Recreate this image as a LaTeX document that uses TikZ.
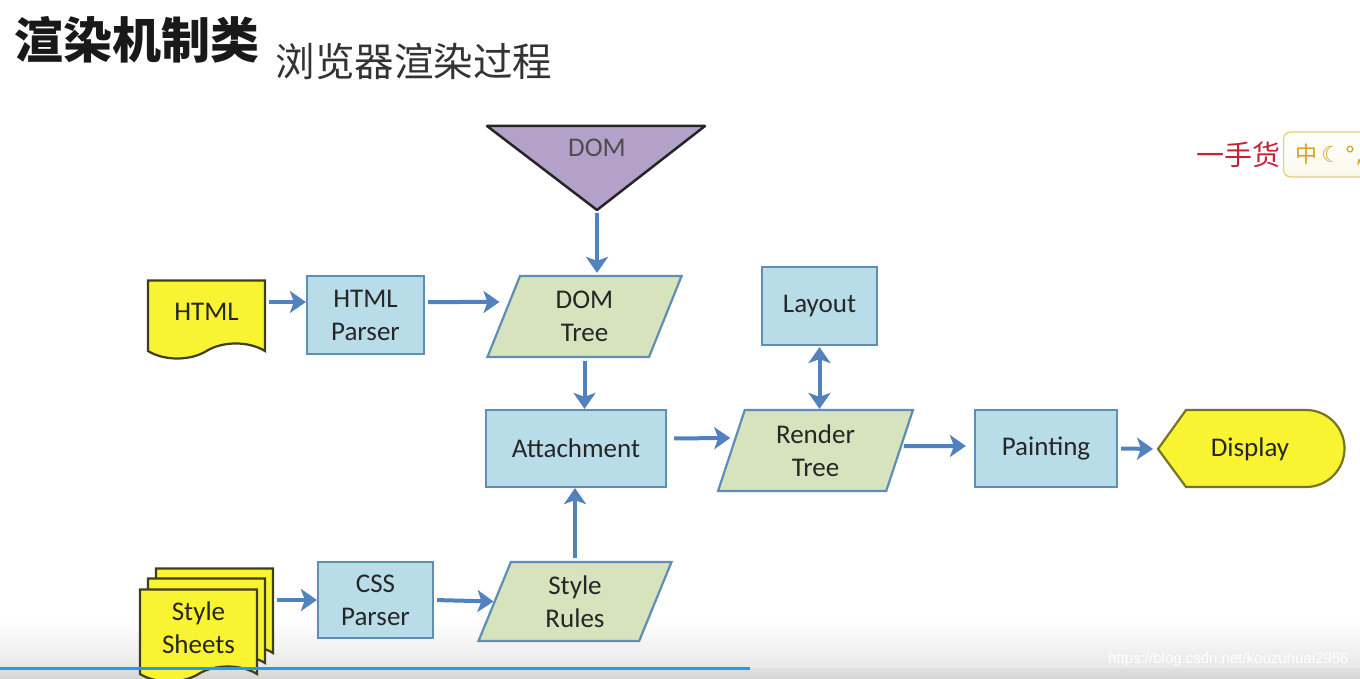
\documentclass[tikz,border=0pt]{standalone}
\usepackage{fontspec}
\setmainfont{Carlito}
\newfontfamily\cjk{Noto Sans CJK SC}
\newfontfamily\symb{DejaVu Sans}
\newfontfamily\web{Liberation Sans}
\usetikzlibrary{arrows.meta,shapes.geometric,shapes.symbols}
\definecolor{procfill}{HTML}{B9DCE9}
\definecolor{procline}{HTML}{5E8DB5}
\definecolor{datafill}{HTML}{D7E3BD}
\definecolor{docfill}{HTML}{F8F431}
\definecolor{docline}{HTML}{3F3F1F}
\definecolor{domfill}{HTML}{B3A1C9}
\definecolor{arrowblue}{HTML}{5282BD}
\definecolor{textgray}{HTML}{262626}
\definecolor{titlered}{HTML}{C4243A}
\definecolor{imeline}{HTML}{E3CF6E}
\definecolor{imetext}{HTML}{D9A21A}
\definecolor{progress}{HTML}{1C9CF2}

\begin{document}
\begin{tikzpicture}[x=1pt,y=-1pt,
  every node/.style={text=textgray,font=\fontsize{27}{33}\selectfont,align=center},
  proc/.style={draw=procline,fill=procfill,line width=2.2pt,inner sep=0pt},
  data/.style={trapezium,trapezium left angle=74,trapezium right angle=106,trapezium stretches=true,
    draw=procline,fill=datafill,line width=2.2pt,minimum width=195,minimum height=81,inner sep=0pt},
  doc/.style={tape,tape bend top=none,tape bend height=15pt,draw=docline,fill=docfill,
    line width=2.2pt,minimum width=117,inner sep=0pt},
  arr/.style={draw=arrowblue,line width=4pt,>={Stealth[length=16pt,width=22pt,inset=4pt]},->,shorten <=3pt}]
\useasboundingbox (0,0) rectangle (1360,679);
\fill[white] (0,0) rectangle (1360,679);
\fill[top color=white,bottom color=black!9] (0,620) rectangle (1360,668);
\fill[top color=black!12,bottom color=black!17] (0,668) rectangle (1360,679);

\node[anchor=base west,font=\cjk\bfseries\fontsize{49}{51}\selectfont,text=black!90] (title) at (11,59) {渲染机制类};
\node[anchor=base west,font=\cjk\fontsize{39.5}{41}\selectfont,text=black!80] (subtitle) at (272,77) {浏览器渲染过程};

\draw[draw=black!85,fill=domfill,line width=2.5pt,line join=round] (487,126) -- (705,126) -- (597,210) -- cycle;
\coordinate (domtip) at (597,210);
\node[text=black!70] (dom) at (597,148) {DOM};

\node[doc,minimum height=78] (html) at (206.5,312) {HTML};
\node[proc,minimum width=117,minimum height=78] (htmlparser) at (365.5,315) {HTML\\Parser};
\node[data] (domtree) at (584.5,316.5) {DOM\\Tree};
\node[proc,minimum width=180,minimum height=77] (attach) at (576,448.5) {Attachment};
\node[data] (render) at (815.5,450.5) {Render\\Tree};
\node[proc,minimum width=115,minimum height=78] (layout) at (819.5,306) {Layout};
\node[proc,minimum width=142,minimum height=77] (paint) at (1046,448.5) {Painting};

\draw[draw=docline!70!docfill,fill=docfill,line width=2.2pt] (1158,449) -- (1186,410) -- (1306,410)
  arc[start angle=-90,end angle=90,radius=38.5] -- (1186,487) -- cycle;
\coordinate (disptip) at (1158,449);
\node[text=black!85] (display) at (1250,449) {Display};

\node[doc,minimum height=92] (sheetsc) at (214.5,607) {};
\node[doc,minimum height=92] (sheetsb) at (206.5,617) {};
\node[doc,minimum height=92] (sheets) at (198.5,628) {Style\\Sheets};
\node[proc,minimum width=115,minimum height=76] (cssparser) at (375.5,600) {CSS\\Parser};
\node[data,minimum width=194,minimum height=79] (stylerules) at (575,601.5) {Style\\Rules};

\draw[arr,shorten >=2pt] (domtip) -- (domtip |- domtree.north);
\draw[arr] ([yshift=10pt]html.east) -- ([yshift=13pt]htmlparser.west);
\draw[arr,shorten >=3pt] ([yshift=13pt]htmlparser.east) -- ([yshift=14.5pt]domtree.west);
\draw[arr] (domtree.center |- domtree.south) -- (domtree.center |- attach.north);
\draw[arr,shorten <=7pt] ([yshift=10pt]attach.east) -- ([yshift=12.5pt]render.west);
\draw[arr,<->,shorten <=1pt] (layout.south) -- (layout.south |- render.north);
\draw[arr,shorten >=8pt] ([yshift=4.5pt]render.east) -- ([yshift=2.5pt]paint.west);
\draw[arr,shorten >=5pt] (paint.east) -- (disptip);
\draw[arr] (sheetsc.east |- cssparser.west) -- (cssparser.west);
\draw[arr] (cssparser.east) -- (stylerules.west);
\draw[arr] (stylerules.center |- stylerules.north) -- (stylerules.center |- attach.south);

\node[anchor=east,text=titlered,font=\cjk\fontsize{28}{30}\selectfont] (yishou) at (1284,155) {一手货};
\node[anchor=west,draw=imeline,line width=1.2pt,rounded corners=7pt,top color=white,bottom color=imeline!15,
  minimum height=45,inner xsep=12pt,text=imetext,font=\symb\fontsize{22}{24}\selectfont] (ime) at (1283,154.5)
  {{\cjk 中}\,☾\,°,\hspace{20pt}};

\node[anchor=east,text=white,font=\web\fontsize{15}{16}\selectfont] (url) at (1352,660) {https://blog.csdn.net/kouzuhuai2956};
\draw[progress,line width=3pt] (0,668) -- (750,668);
\end{tikzpicture}
\end{document}
